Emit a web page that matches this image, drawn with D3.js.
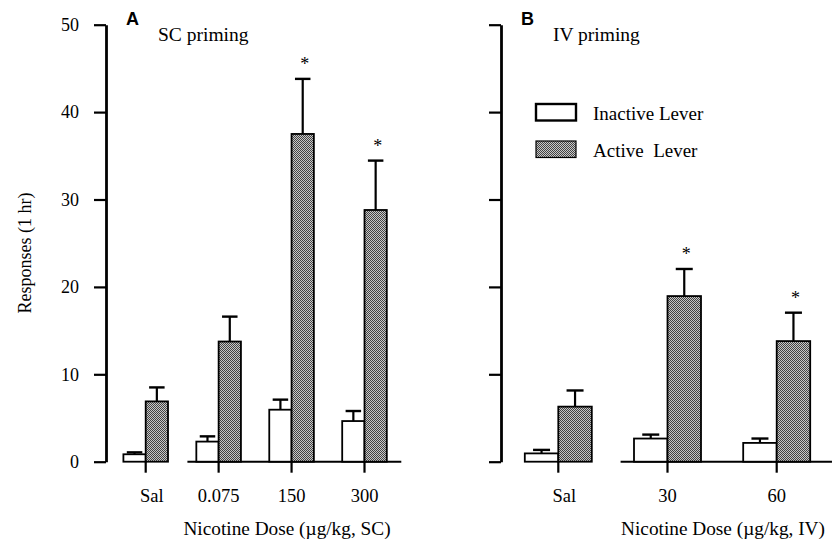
<!DOCTYPE html>
<html>
<head>
<meta charset="utf-8">
<script src="https://cdn.jsdelivr.net/npm/d3@7"></script>
<style>
  body { margin: 0; background: #fff; }
  text { font-family: "Liberation Serif", "Times New Roman", serif; fill: #000; }
</style>
</head>
<body>
<div id="chart"></div>
<script>
// data
const yTicks = [0, 10, 20, 30, 40, 50];

const scDoses = ["Sal", "0.075", "150", "300"];
const scInactive = [0.85, 2.3, 5.95, 4.65];
const scInactiveErr = [0.22, 0.6, 1.15, 1.15];
const scActive = [6.9, 13.75, 37.5, 28.8];
const scActiveErr = [1.6, 2.85, 6.3, 5.65];
const scStars = [false, false, true, true];

const ivDoses = ["Sal", "30", "60"];
const ivInactive = [0.95, 2.65, 2.15];
const ivInactiveErr = [0.4, 0.45, 0.5];
const ivActive = [6.3, 18.95, 13.8];
const ivActiveErr = [1.85, 3.1, 3.25];
const ivStars = [false, true, true];

const width = 837, height = 544;

const svg = d3.select("#chart").append("svg")
    .attr("width", width)
    .attr("height", height);

// stipple fill for the active lever bars
const defs = svg.append("defs");
const pat = defs.append("pattern")
    .attr("id", "stipple")
    .attr("patternUnits", "userSpaceOnUse")
    .attr("width", 2).attr("height", 2);
pat.append("rect").attr("width", 2).attr("height", 2).attr("fill", "#c8c8c8");
pat.append("rect").attr("width", 1).attr("height", 1).attr("fill", "#444");
pat.append("rect").attr("x", 1).attr("y", 1).attr("width", 1).attr("height", 1).attr("fill", "#444");

let y = d3.scaleLinear().domain([0, 50]).range([461.7, 24.7]);

function drawPanel(opts) {
    let g = svg.append("g");

    // y axis
    let yAxis = d3.axisLeft(y)
        .tickValues(yTicks)
        .tickSize(12)
        .tickSizeOuter(0)
        .tickPadding(15)
        .tickFormat(opts.labels ? d3.format("d") : "");

    let ya = g.append("g")
        .attr("transform", `translate(${opts.axisX},0)`)
        .call(yAxis);
    ya.select(".domain").attr("stroke", "#000").attr("stroke-width", 2.8);
    ya.selectAll(".tick line").attr("stroke", "#000").attr("stroke-width", 2.2);
    ya.selectAll(".tick text")
        .style("font-family", "Liberation Serif, serif")
        .style("font-size", "18px");

    let x = d3.scalePoint().domain(opts.doses).range(opts.xRange);
    let w = opts.barW;

    // broken baseline under the drug doses
    g.append("line")
        .attr("x1", x(opts.doses[1]) - 1.4 * w)
        .attr("x2", x(opts.doses[opts.doses.length - 1]) + 1.65 * w)
        .attr("y1", y(0)).attr("y2", y(0))
        .attr("stroke", "#000").attr("stroke-width", 2);

    // x ticks
    g.selectAll(".xtick").data(opts.doses).enter().append("line")
        .attr("x1", d => x(d)).attr("x2", d => x(d))
        .attr("y1", y(0)).attr("y2", y(0) + 11)
        .attr("stroke", "#000").attr("stroke-width", 2.2);

    // error bars (upper only)
    function errBars(vals, errs, off) {
        let capW = opts.capW;
        g.selectAll(null).data(vals).enter().append("line")
            .attr("x1", (d, i) => x(opts.doses[i]) + off)
            .attr("x2", (d, i) => x(opts.doses[i]) + off)
            .attr("y1", d => y(d))
            .attr("y2", (d, i) => y(d + errs[i]))
            .attr("stroke", "#000").attr("stroke-width", 2.2);
        g.selectAll(null).data(vals).enter().append("line")
            .attr("x1", (d, i) => x(opts.doses[i]) + off - capW / 2)
            .attr("x2", (d, i) => x(opts.doses[i]) + off + capW / 2)
            .attr("y1", (d, i) => y(d + errs[i]))
            .attr("y2", (d, i) => y(d + errs[i]))
            .attr("stroke", "#000").attr("stroke-width", 2.4);
    }
    errBars(opts.inactive, opts.inactiveErr, -w / 2);
    errBars(opts.active, opts.activeErr, w / 2);

    // bars
    g.selectAll(".inact").data(opts.inactive).enter().append("rect")
        .attr("x", (d, i) => x(opts.doses[i]) - w)
        .attr("y", d => y(d))
        .attr("width", w)
        .attr("height", d => y(0) - y(d))
        .attr("fill", "#fff").attr("stroke", "#000").attr("stroke-width", 1.8);

    g.selectAll(".act").data(opts.active).enter().append("rect")
        .attr("x", (d, i) => x(opts.doses[i]))
        .attr("y", d => y(d))
        .attr("width", w)
        .attr("height", d => y(0) - y(d))
        .attr("fill", "url(#stipple)").attr("stroke", "#000").attr("stroke-width", 1.8);

    // significance stars
    g.selectAll(".star").data(opts.active).enter()
        .filter((d, i) => opts.stars[i])
        .append("text")
        .attr("x", (d) => x(opts.doses[opts.active.indexOf(d)]) + w / 2 + 2)
        .attr("y", (d) => y(d + opts.activeErr[opts.active.indexOf(d)]) - 9)
        .attr("text-anchor", "middle")
        .style("font-size", "18px")
        .text("*");

    // dose labels
    g.selectAll(".xlab").data(opts.doses).enter().append("text")
        .attr("x", d => x(d) + (d === "Sal" ? 6 : 0))
        .attr("y", 501.5)
        .attr("text-anchor", "middle")
        .style("font-size", "18.5px")
        .text(d => d);

    // axis title
    g.append("text")
        .attr("x", opts.titleX)
        .attr("y", 535)
        .attr("text-anchor", "middle")
        .style("font-size", "19.3px")
        .text(opts.title);

    // panel letter and heading
    g.append("text")
        .attr("x", opts.axisX + 20)
        .attr("y", 25)
        .style("font-family", "Liberation Sans, Arial, sans-serif")
        .style("font-weight", "bold")
        .style("font-size", "18px")
        .text(opts.letter);
    g.append("text")
        .attr("x", opts.axisX + 52)
        .attr("y", 41)
        .style("font-size", "19.5px")
        .text(opts.heading);
}

drawPanel({
    axisX: 106, labels: true,
    doses: scDoses, xRange: [145.7, 364.5], barW: 22.3, capW: 15.5,
    inactive: scInactive, inactiveErr: scInactiveErr,
    active: scActive, activeErr: scActiveErr, stars: scStars,
    title: "Nicotine Dose (\u00b5g/kg, SC)", titleX: 287,
    letter: "A", heading: "SC priming"
});

drawPanel({
    axisX: 501, labels: false,
    doses: ivDoses, xRange: [558.3, 776.7], barW: 33.5, capW: 17,
    inactive: ivInactive, inactiveErr: ivInactiveErr,
    active: ivActive, activeErr: ivActiveErr, stars: ivStars,
    title: "Nicotine Dose (\u00b5g/kg, IV)", titleX: 723,
    letter: "B", heading: "IV priming"
});

// y axis title
svg.append("text")
    .attr("transform", "translate(31,253) rotate(-90)")
    .attr("text-anchor", "middle")
    .style("font-size", "18px")
    .text("Responses (1 hr)");

// legend
const legend = [
    {label: "Inactive Lever", fill: "#fff", sw: 2.4},
    {label: "Active  Lever", fill: "url(#stipple)", sw: 1.2}
];
const lg = svg.append("g").attr("transform", "translate(536,104)");
lg.selectAll("rect").data(legend).enter().append("rect")
    .attr("x", 0).attr("y", (d, i) => i * 37)
    .attr("width", 40).attr("height", 16.5)
    .attr("fill", d => d.fill).attr("stroke", "#000")
    .attr("stroke-width", d => d.sw);
lg.selectAll("text").data(legend).enter().append("text")
    .attr("x", 57).attr("y", (d, i) => i * 37 + 16)
    .style("font-size", "19px")
    .style("white-space", "pre")
    .attr("xml:space", "preserve")
    .text(d => d.label);
</script>
</body>
</html>
